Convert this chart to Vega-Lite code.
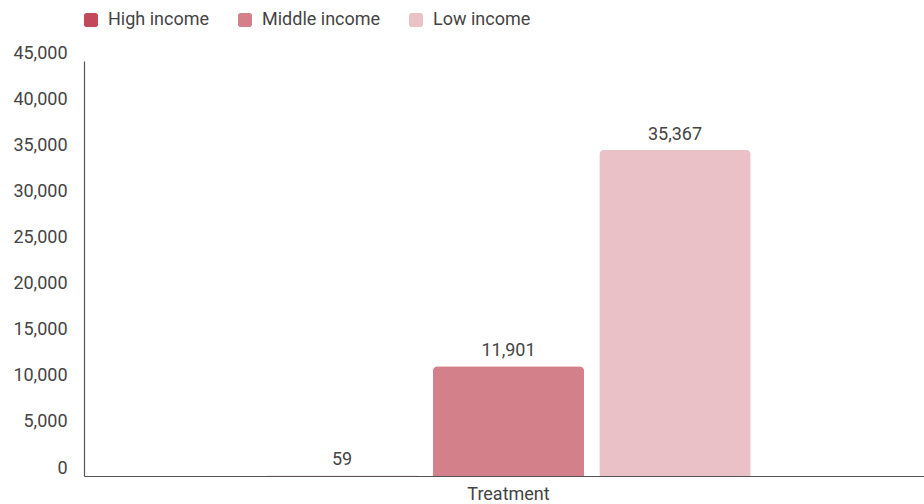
{
  "$schema": "https://vega.github.io/schema/vega-lite/v6.json",
  "width": 849,
  "height": 415,
  "autosize": "none",
  "padding": {"left": 84, "top": 61, "right": 0, "bottom": 28},
  "background": "white",
  "config": {
    "view": {"stroke": null},
    "font": "Roboto",
    "axis": {"labelFont": "Roboto", "labelFontSize": 18, "labelColor": "#444444", "domainColor": "#555555", "domainWidth": 1.2, "ticks": false, "grid": false, "title": null},
    "legend": {"labelFont": "Roboto", "labelFontSize": 18, "labelColor": "#444444"}
  },
  "data": {
    "values": [
      {"category": "Treatment", "income": "High income", "value": 59},
      {"category": "Treatment", "income": "Middle income", "value": 11901},
      {"category": "Treatment", "income": "Low income", "value": 35367}
    ]
  },
  "encoding": {
    "x": {"field": "category", "type": "nominal", "scale": {"paddingInner": 0, "paddingOuter": 0.3765}, "axis": {"labelAngle": 0, "labelPadding": 9, "domain": true}},
    "xOffset": {"field": "income", "type": "nominal", "sort": ["High income", "Middle income", "Low income"], "scale": {"paddingInner": 0.091, "paddingOuter": 0}},
    "y": {"field": "value", "type": "quantitative", "scale": {"domain": [0, 45000], "nice": false}, "axis": {"values": [0,5000,10000,15000,20000,25000,30000,35000,40000,45000], "format": ",d", "labelBaseline": "alphabetic", "labelPadding": 17, "labelOffset": -3}}
  },
  "layer": [
    {
      "mark": {"type": "bar", "cornerRadiusEnd": 5},
      "encoding": {
        "color": {
          "field": "income", "type": "nominal",
          "sort": ["High income", "Middle income", "Low income"],
          "scale": {"domain": ["High income", "Middle income", "Low income"], "range": ["#c1495a", "#d4808b", "#e9c1c7"]},
          "legend": {"title": null, "orient": "none", "legendX": -2, "legendY": -50, "direction": "horizontal", "symbolType": "M-1,-0.6Q-1,-1,-0.6,-1L0.6,-1Q1,-1,1,-0.6L1,0.6Q1,1,0.6,1L-0.6,1Q-1,1,-1,0.6Z", "symbolSize": 196, "symbolStrokeWidth": 0, "symbolOpacity": 1, "columnPadding": 26, "labelOffset": 8}
        }
      }
    },
    {
      "mark": {"type": "text", "baseline": "alphabetic", "dy": -10, "fontSize": 18, "color": "#444444", "font": "Roboto"},
      "encoding": {
        "text": {"field": "value", "type": "quantitative", "format": ",d"}
      }
    }
  ]
}
